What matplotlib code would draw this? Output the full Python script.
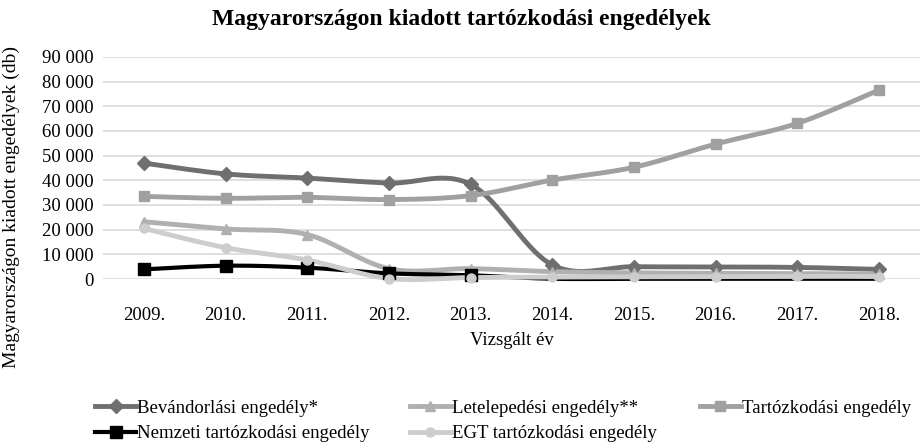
import matplotlib
matplotlib.use("Agg")
import matplotlib.pyplot as plt
import numpy as np
from matplotlib.lines import Line2D

plt.rcParams["font.family"] = ["Liberation Serif", "DejaVu Serif"]

years = ["2009.", "2010.", "2011.", "2012.", "2013.", "2014.", "2015.", "2016.", "2017.", "2018."]

bevandorlasi = [47000, 42600, 40900, 38900, 38400, 5700, 5000, 4900, 4700, 3900]
letelepedesi = [23200, 20300, 18000, 4200, 4200, 3000, 2500, 2300, 2200, 2000]
tartozkodasi = [33500, 32700, 33100, 32200, 33800, 40100, 45300, 54700, 63100, 76600]
nemzeti = [3900, 5400, 4600, 2300, 1500, 100, 100, 100, 100, 100]
egt = [20500, 12700, 7700, 200, 600, 800, 900, 1000, 1100, 1000]

names = ["Bevándorlási engedély*", "Letelepedési engedély**", "Tartózkodási engedély",
         "Nemzeti tartózkodási engedély", "EGT tartózkodási engedély"]


def smooth(y, n=20):
    # excel-like smoothed line (catmull-rom, tension 0.5)
    y = np.asarray(y, dtype=float)
    x = np.arange(len(y), dtype=float)
    pts = np.column_stack([x, y])
    out = []
    for i in range(len(pts) - 1):
        p0 = pts[max(i - 1, 0)]
        p1 = pts[i]
        p2 = pts[i + 1]
        p3 = pts[min(i + 2, len(pts) - 1)]
        c1 = p1 + (p2 - p0) / 6.0
        c2 = p2 - (p3 - p1) / 6.0
        t = np.linspace(0, 1, n)[:, None]
        seg = (1 - t) ** 3 * p1 + 3 * (1 - t) ** 2 * t * c1 + 3 * (1 - t) * t ** 2 * c2 + t ** 3 * p2
        out.append(seg if i == 0 else seg[1:])
    out = np.vstack(out)
    return out[:, 0], out[:, 1]


fig = plt.figure(figsize=(9.23, 4.45), dpi=100)
ax = fig.add_axes([0.1116, 0.373, 0.885, 0.499])

# values, colour, marker, marker size, line width, which points get a marker
styles = [
    (bevandorlasi, "#6f6f6f", "D", 7, 3.5, None),
    (letelepedesi, "#b0b0b0", "^", 7, 3.5, None),
    (tartozkodasi, "#a0a0a0", "s", 7.5, 3.5, None),
    (nemzeti, "#000000", "s", 8, 3.0, list(range(5))),
    (egt, "#cdcdcd", "o", 6.5, 3.5, None),
]

x = np.arange(len(years))
handles = []
for (vals, col, mk, ms, lw, every), name in zip(styles, names):
    sx, sy = smooth(vals)
    ax.plot(sx, sy, color=col, lw=lw, solid_capstyle="round", clip_on=False, zorder=3)
    ax.plot(x, vals, ls="none", marker=mk, ms=ms, color=col, markevery=every,
            clip_on=False, zorder=4)
    handles.append(Line2D([], [], color=col, lw=lw, marker=mk, ms=ms))

ax.set_xlim(-0.5, len(years) - 0.5)
ax.set_ylim(0, 90000)
ax.set_yticks(np.arange(0, 90001, 10000))
ax.set_yticklabels([f"{v:,}".replace(",", " ") for v in range(0, 90001, 10000)])
ax.set_xticks(x)
ax.set_xticklabels(years)
ax.tick_params(axis="both", length=0, labelsize=13.5)
ax.tick_params(axis="x", pad=20)
ax.tick_params(axis="y", pad=7)
ax.grid(axis="y", color="#d9d9d9", lw=1.2)
ax.set_axisbelow(True)
for s in ax.spines.values():
    s.set_visible(False)

ax.set_xlabel("Vizsgált év", fontsize=13.5, labelpad=6)
fig.text(0.012, 0.535, "Magyarországon kiadott engedélyek (db)", rotation=90,
         fontsize=14, ha="center", va="center")
fig.text(0.5, 0.957, "Magyarországon kiadott tartózkodási engedélyek",
         fontsize=17, fontweight="bold", ha="center", va="center")

# legend entries placed individually
leg_pos = [(0.103, 0.083), (0.444, 0.083), (0.758, 0.083), (0.103, 0.025), (0.444, 0.025)]
for h, name, (lx, ly) in zip(handles, names, leg_pos):
    fig.legend([h], [name], loc="center left", bbox_to_anchor=(lx, ly), frameon=False,
               fontsize=13.5, handlelength=2.2, handletextpad=0.05, borderaxespad=0,
               borderpad=0)

fig.savefig("out.png", dpi=100)
